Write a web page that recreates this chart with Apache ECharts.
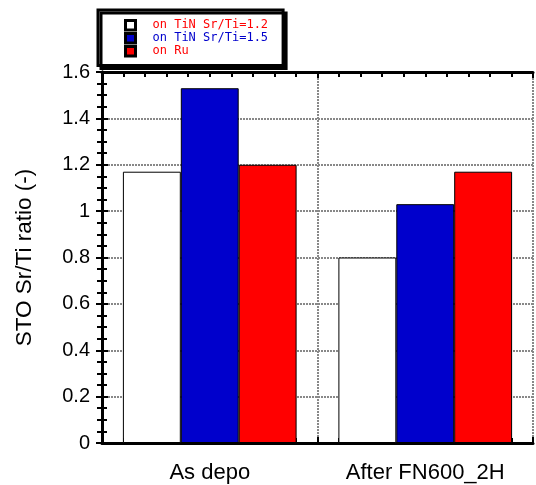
<!DOCTYPE html>
<html>
<head>
<meta charset="utf-8">
<script src="https://cdn.jsdelivr.net/npm/echarts@6/dist/echarts.min.js"></script>
<style>html,body{margin:0;padding:0;background:#fff}#c{width:536px;height:485px}</style>
</head>
<body>
<div id="c"></div>
<script>
var categories = ['As depo', 'After FN600_2H'];
var seriesNames = ['on TiN Sr/Ti=1.2', 'on TiN Sr/Ti=1.5', 'on Ru'];
var seriesColors = ['#ffffff', '#0000cc', '#ff0000'];
var legendTextColors = ['#ff0000', '#0000cc', '#ff0000'];
var tin12 = [1.17, 0.80];
var tin15 = [1.53, 1.03];
var ru = [1.20, 1.17];
var yTicks = [0, 0.2, 0.4, 0.6, 0.8, 1, 1.2, 1.4, 1.6];
var yTitle = 'STO Sr/Ti ratio (-)';

var values = [tin12, tin15, ru];
var chart = echarts.init(document.getElementById('c'));
var gridLine = {show: true, lineStyle: {color: '#888', type: [2, 1], width: 2}};
var axisL = {show: true, lineStyle: {color: '#000', width: 3}};
var option = {
  animation: false,
  backgroundColor: '#fff',
  textStyle: {fontFamily: 'Liberation Sans, Arial, sans-serif'},
  grid: {left: 102, right: 3, top: 72, bottom: 42, containLabel: false},
  legend: {
    orient: 'vertical', left: 98, top: 10,
    padding: [9, 15, 8, 26], itemGap: 0.5,
    itemWidth: 10, itemHeight: 9.5, icon: 'rect',
    backgroundColor: '#fff', borderColor: '#000', borderWidth: 3,
    shadowColor: '#000', shadowOffsetX: 3, shadowOffsetY: 3, shadowBlur: 0,
    itemStyle: {borderColor: '#000', borderWidth: 3},
    textStyle: {fontFamily: 'DejaVu Sans Mono, monospace', fontSize: 12, padding: [0, 0, 0, 12], lineHeight: 12},
    data: seriesNames.map(function (n, i) { return {name: n, textStyle: {color: legendTextColors[i]}}; })
  },
  xAxis: [
    {type: 'category', data: categories, position: 'bottom',
     axisLine: {show: false}, axisTick: {show: false},
     axisLabel: {fontSize: 22, color: '#000', margin: 19}},
    {type: 'value', min: 0, max: 2, interval: 1, position: 'bottom',
     axisLine: axisL, axisLabel: {show: false},
     axisTick: {show: true, inside: true, length: 6, lineStyle: {color: '#000', width: 2}},
     minorTick: {show: true, splitNumber: 10, length: 5, lineStyle: {color: '#000', width: 2}},
     splitLine: gridLine},
    {type: 'value', min: 0, max: 2, interval: 1, position: 'top',
     axisLine: axisL, axisLabel: {show: false},
     axisTick: {show: true, inside: true, length: 6, lineStyle: {color: '#000', width: 2}},
     minorTick: {show: true, splitNumber: 10, length: 5, lineStyle: {color: '#000', width: 2}},
     splitLine: {show: false}}
  ],
  yAxis: [
    {type: 'value', min: 0, max: 1.6, interval: 0.2, position: 'left',
     name: yTitle, nameLocation: 'middle', nameGap: 66, nameRotate: 90,
     nameTextStyle: {fontSize: 22.5, color: '#000'},
     axisLine: axisL,
     axisLabel: {fontSize: 20, color: '#000', margin: 12,
       formatter: function (v) { var r = Math.round(v * 10) / 10; return yTicks.indexOf(r) >= 0 ? String(r) : ''; }},
     axisTick: {show: true, inside: true, length: 6, lineStyle: {color: '#000', width: 2}},
     minorTick: {show: true, splitNumber: 4, length: 5, lineStyle: {color: '#000', width: 2}},
     splitLine: gridLine},
    {type: 'value', min: 0, max: 1.6, interval: 0.2, position: 'right',
     axisLine: axisL, axisLabel: {show: false},
     axisTick: {show: true, inside: true, length: 6, lineStyle: {color: '#000', width: 2}},
     minorTick: {show: true, splitNumber: 4, length: 5, lineStyle: {color: '#000', width: 2}},
     splitLine: {show: false}}
  ],
  series: seriesNames.map(function (n, i) {
    return {
      name: n, type: 'bar', xAxisIndex: 0, yAxisIndex: 0,
      data: values[i], barGap: '0%', barCategoryGap: '19.4%',
      itemStyle: {color: seriesColors[i], borderColor: '#000', borderWidth: 1}
    };
  })
};
chart.setOption(option);
</script>
</body>
</html>
